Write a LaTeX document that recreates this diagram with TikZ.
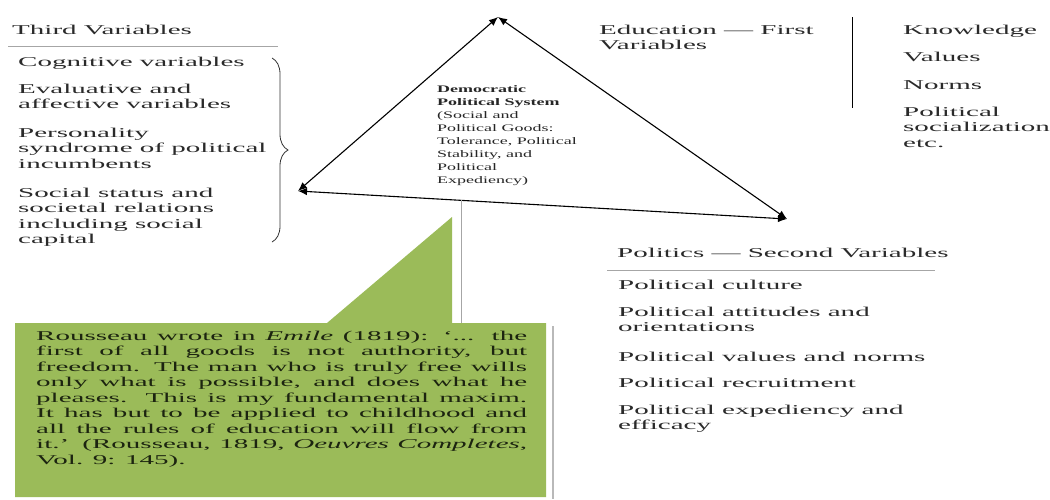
\documentclass[tikz,border=0pt]{standalone}
\usepackage{fontspec}
\setmainfont{Liberation Serif}[FakeStretch=2.15]
\newfontfamily\trifont{Liberation Serif}[FakeStretch=1.8]
\usetikzlibrary{arrows.meta,decorations.pathreplacing}
\definecolor{calloutgreen}{HTML}{9BBB59}
\definecolor{callouttext}{HTML}{1C2410}
\definecolor{listtext}{HTML}{2A2A2A}
\tikzset{
  listitem/.style={anchor=base west, inner sep=0pt, align=left, text=listtext,
    font=\fontsize{13.5}{15.5}\selectfont},
  rulerline/.style={draw=gray!70, line width=0.7pt},
  triedge/.style={draw=black, line width=1.1pt,
    {Latex[length=9pt,width=7.5pt]}-{Latex[length=9pt,width=7.5pt]}},
  trilabel/.style={anchor=base west, inner sep=0pt, align=left, text=black!85,
    font=\trifont\fontsize{10}{12.9}\selectfont},
  callout/.style={fill=calloutgreen, draw=none},
  callouttxt/.style={anchor=base west, inner sep=0pt, text width=491pt, align=justify,
    text=callouttext, font=\fontsize{13.5}{15.5}\selectfont},
}
\begin{document}
\begin{tikzpicture}[x=1pt,y=-1pt]
\useasboundingbox (0,0) rectangle (1050,499);
\fill[white] (0,0) rectangle (1050,499);

% multi-line nodes are placed by the baseline of their LAST line
% ---------- Third variables (left) ----------
\node[listitem] (third) at (12,34) {Third Variables};
\draw[rulerline] (8,46) coordinate (r1a) -- (278,46) coordinate (r1b);
\node[listitem] (cog) at (18,66) {Cognitive variables};
\node[listitem] (eva) at (18,108.5) {Evaluative and\\affective variables};
\node[listitem] (per) at (18,168) {Personality\\syndrome of political\\incumbents};
\node[listitem] (soc) at (18,243.5) {Social status and\\societal relations\\including social\\capital};
\draw[line width=0.8pt, black!80, decorate, decoration={brace, amplitude=16pt}]
  (272,58) coordinate (bt) -- (272,242) coordinate (bb);

% ---------- Education (top right) ----------
\node[listitem] (edu) at (599,49.5) {Education --- First\\Variables};
\draw[line width=1pt, black] (852,17) coordinate (va) -- (852,108) coordinate (vb);
\node[listitem] (know) at (903,34) {Knowledge};
\node[listitem] (val) at (903,61) {Values};
\node[listitem] (norm) at (903,89) {Norms};
\node[listitem] (psoc) at (903,147) {Political\\socialization\\etc.};

% ---------- Politics (bottom right) ----------
\node[listitem] (pol) at (617,257) {Politics --- Second Variables};
\draw[rulerline] (607,270) coordinate (r2a) -- (935,270) coordinate (r2b);
\node[listitem] (pcul) at (618,289) {Political culture};
\node[listitem] (patt) at (618,331.5) {Political attitudes and\\orientations};
\node[listitem] (pval) at (618,361) {Political values and norms};
\node[listitem] (prec) at (618,387) {Political recruitment};
\node[listitem] (pexp) at (618,429.5) {Political expediency and\\efficacy};

% ---------- Triangle ----------
\coordinate (A) at (498,17);
\coordinate (B) at (298,191);
\coordinate (C) at (787,219);
\draw[triedge] (B) -- (A);
\draw[triedge] (A) -- (C);
\draw[triedge] (B) -- (C);
\node[trilabel] (dps) at (437,183)
  {\textbf{Democratic}\\\textbf{Political System}\\(Social and\\Political Goods:\\Tolerance, Political\\Stability, and\\Political\\Expediency)};

% ---------- Callout ----------
\path (B) -- (C) coordinate[pos=0.335] (onbase);
\coordinate (ctop) at (462,323);
\draw[gray!70, line width=1pt] (onbase) -- (onbase |- ctop);
\draw[gray!55, line width=1.2pt] (553,326) -- (553,499);
\fill[callout] (15,323) -- (327,323) -- (452,217) -- (452,323) -- (546,323)
  -- (546,497) -- (15,497) -- cycle;
\node[callouttxt] (quote) at (36,340) {\tolerance=10000
Rousseau wrote in \emph{Emile} (1819): ‘... the\linebreak
first of all goods is not authority, but\linebreak
freedom. The man who is truly free wills\linebreak
only what is possible, and does what he\linebreak
pleases. This is my fundamental maxim.\linebreak
It has but to be applied to childhood and\linebreak
all the rules of education will flow from\linebreak
it.’ (Rousseau, 1819, \emph{Oeuvres Completes},\linebreak
Vol. 9: 145).};
\end{tikzpicture}
\end{document}
